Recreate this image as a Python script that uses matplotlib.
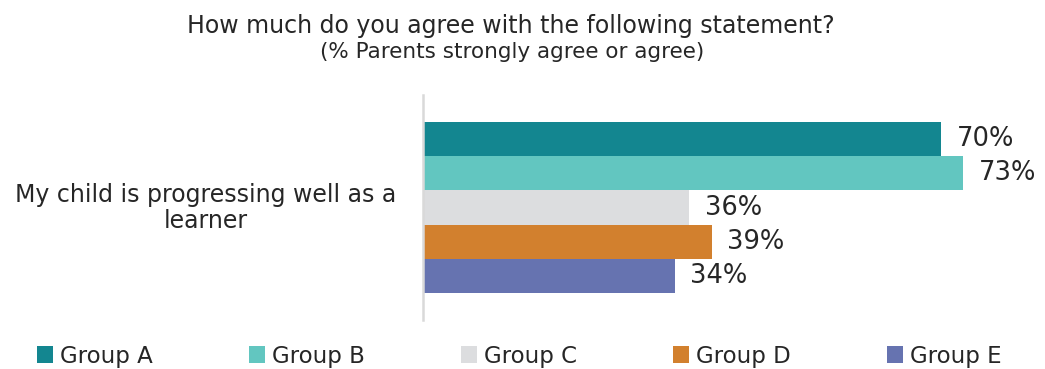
import matplotlib.pyplot as plt
from matplotlib.patches import Patch

# survey results, one question, five groups
question = 'My child is progressing well as a\nlearner'
groups = ['Group A', 'Group B', 'Group C', 'Group D', 'Group E']
values = [70, 73, 36, 39, 34]
colors = ['#138690', '#62C6C0', '#DCDDDF', '#D2802E', '#6673B0']

plt.rcParams['font.family'] = ['DejaVu Sans']
text_color = '#262626'

fig = plt.figure(figsize=(10.45, 3.69), dpi=100)
ax = fig.add_axes([423 / 1045, 1 - 320 / 369, 617 / 1045, 225 / 369])

pos = list(range(len(groups)))
ax.barh(pos, values, height=1.0, color=colors, edgecolor='none')
for p, v in zip(pos, values):
    ax.text(v + 2.1, p, f'{v}%', va='center', ha='left', fontsize=18.5, color=text_color)

ax.set_xlim(0, 617 / 7.4)
ax.set_ylim(4.5 + 0.79, -0.5 - 0.79)
ax.set_xticks([])
ax.set_yticks([])
for s in ['top', 'right', 'bottom']:
    ax.spines[s].set_visible(False)
ax.spines['left'].set_color('#D9D9D9')
ax.spines['left'].set_linewidth(1.8)

fig.text(206 / 1045, 1 - 208 / 369, question, ha='center', va='center',
         fontsize=17, color=text_color, linespacing=1.1)

fig.text(511 / 1045, 1 - 26 / 369, 'How much do you agree with the following statement?',
         ha='center', va='center', fontsize=17, color=text_color)
fig.text(512 / 1045, 1 - 52 / 369, '(% Parents strongly agree or agree)',
         ha='center', va='center', fontsize=15.5, color=text_color)

handles = [Patch(facecolor=c, edgecolor='none') for c in colors]
fig.legend(handles, groups, loc='center', bbox_to_anchor=(0.497, 1 - 356 / 369),
           ncol=5, frameon=False, fontsize=16.5, handlelength=0.7, handleheight=0.7,
           handletextpad=0.3, columnspacing=4.2, labelcolor=text_color)

fig.savefig('out.png', dpi=100)
